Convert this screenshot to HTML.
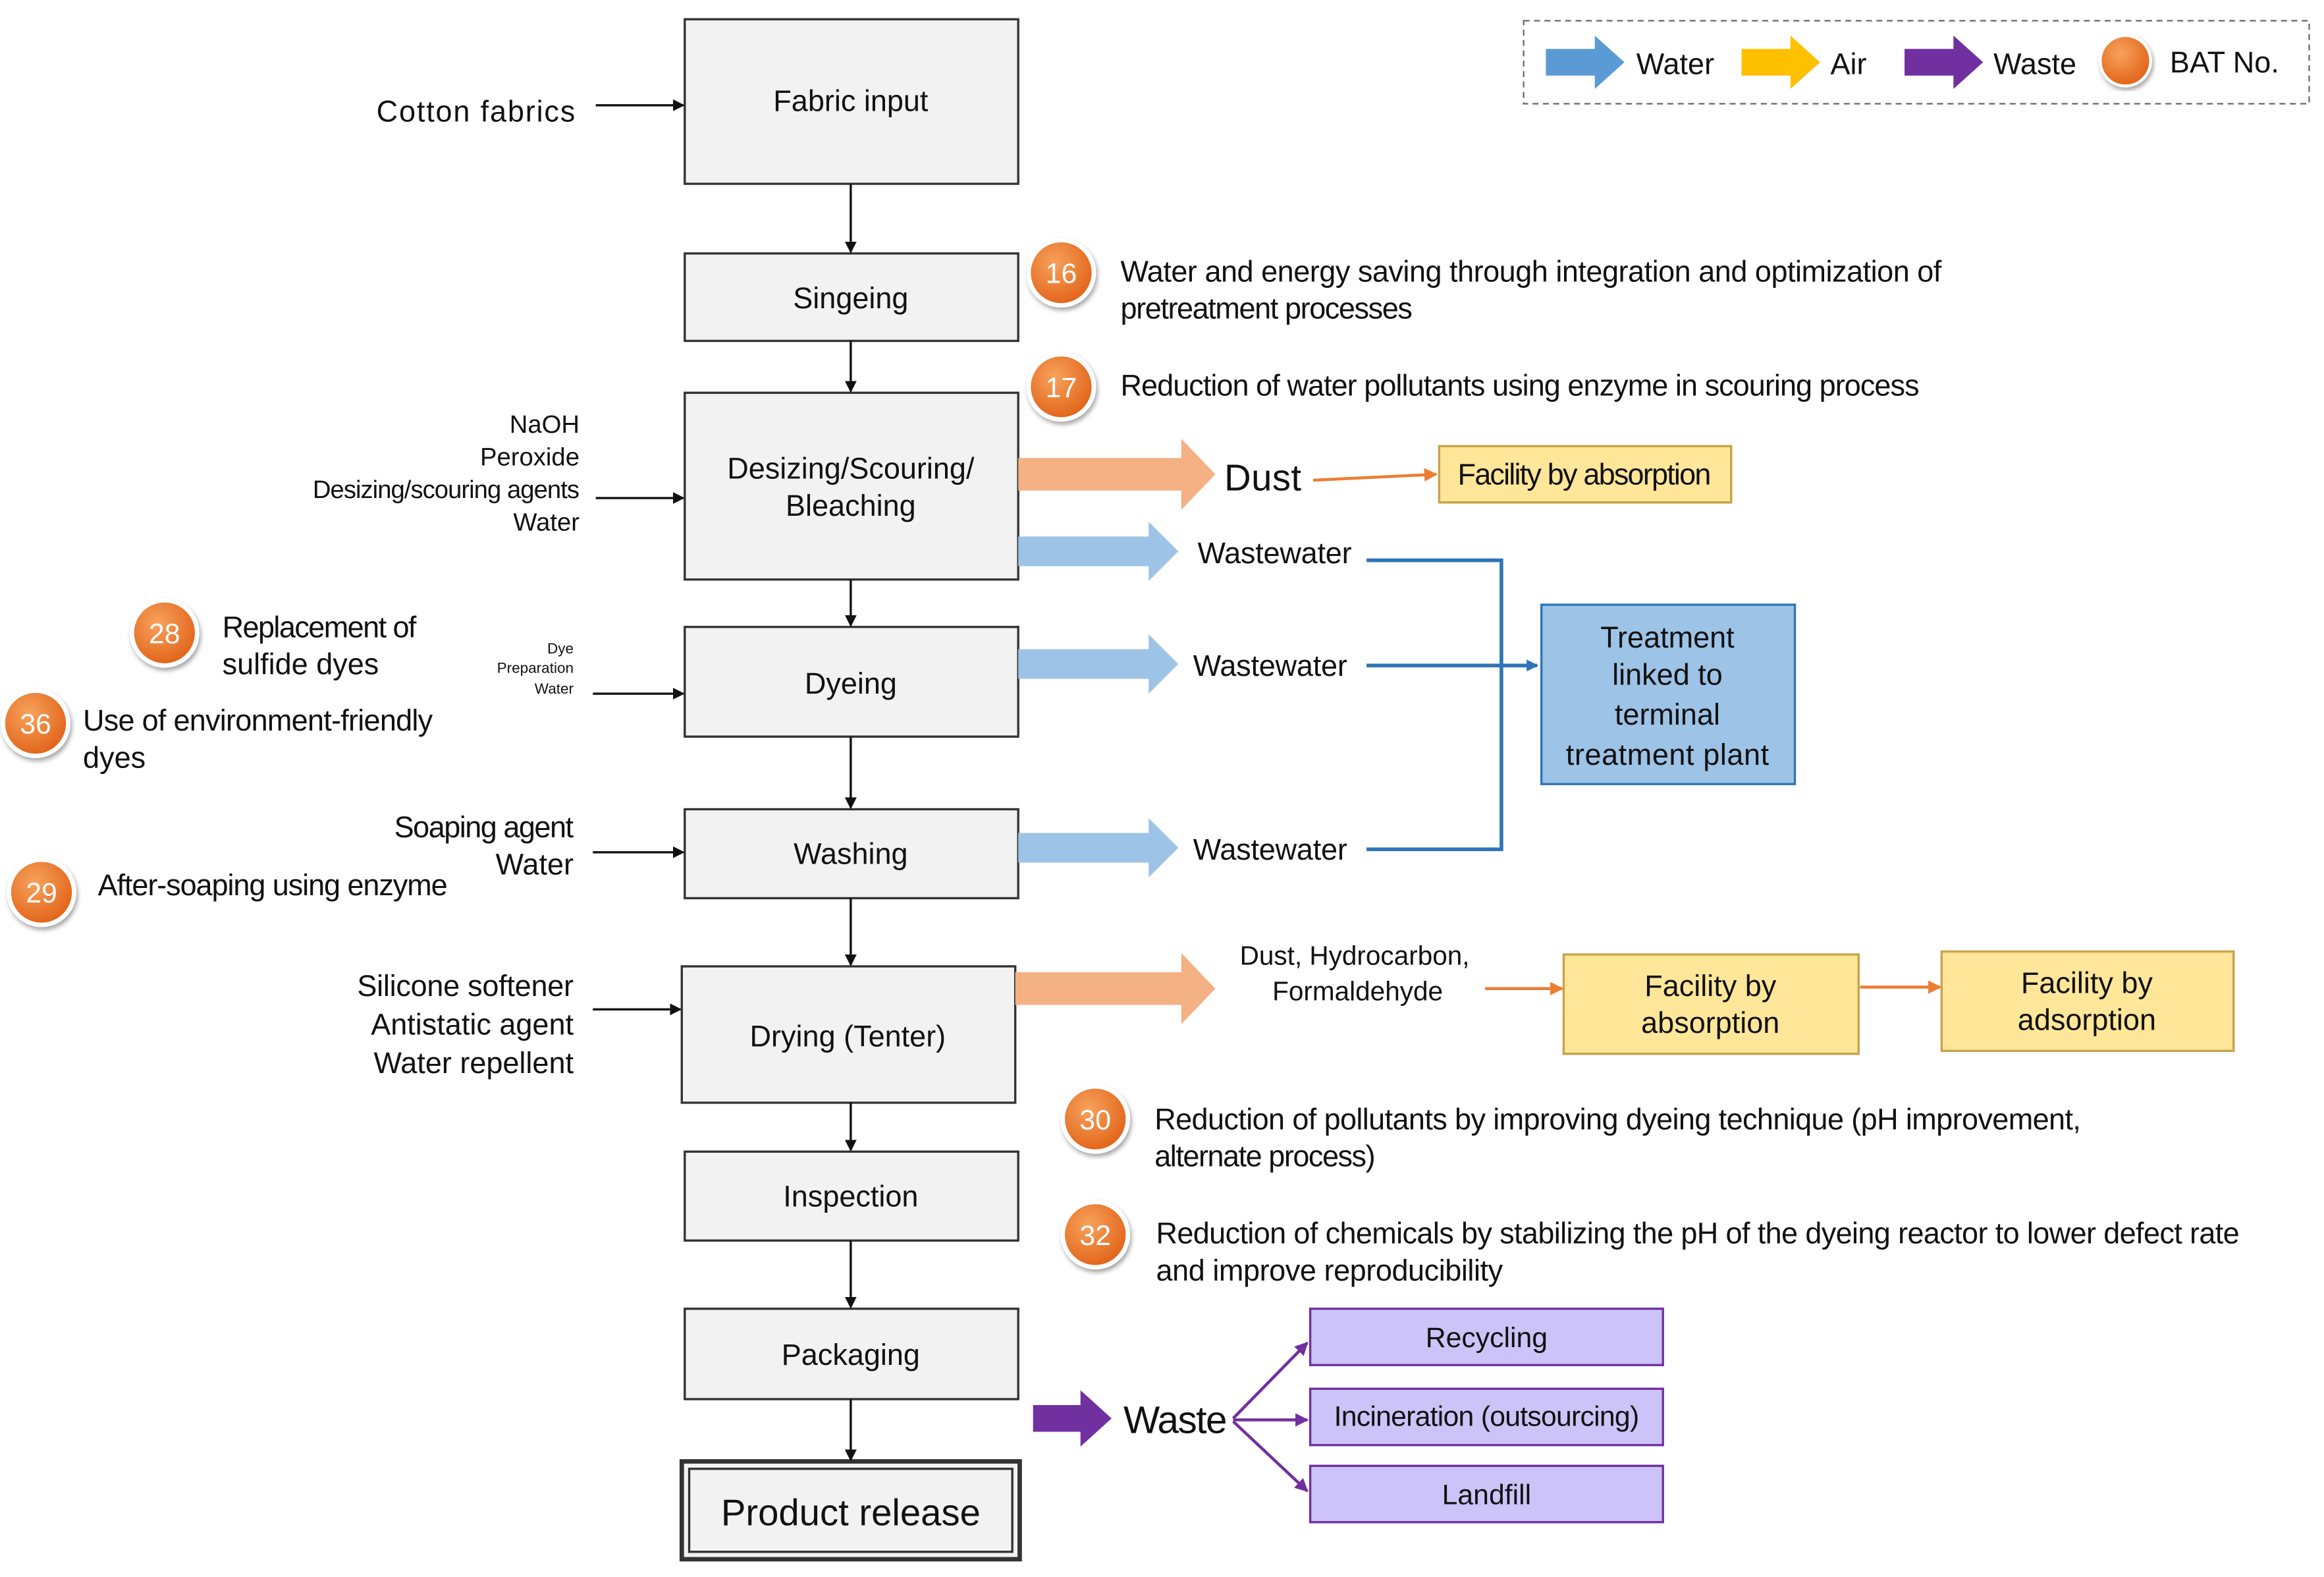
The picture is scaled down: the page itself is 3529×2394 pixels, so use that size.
<!DOCTYPE html>
<html><head><meta charset="utf-8"><style>
html,body{margin:0;padding:0;background:#fff;}
svg{display:block;}
text{font-family:"Liberation Sans Narrow","Liberation Sans",sans-serif;fill:#111;}
</style></head><body>
<svg width="3529" height="2394" viewBox="0 0 1568 1064" preserveAspectRatio="none" xmlns="http://www.w3.org/2000/svg">
<defs>
<marker id="ah" markerWidth="8" markerHeight="8" refX="7" refY="4" orient="auto" markerUnits="userSpaceOnUse"><path d="M0,0 L8,4 L0,8z" fill="#111"/></marker>
<marker id="ab" markerWidth="8" markerHeight="8" refX="7" refY="4" orient="auto" markerUnits="userSpaceOnUse"><path d="M0,0 L8,4 L0,8z" fill="#2e75b6"/></marker>
<marker id="ao" markerWidth="9" markerHeight="9" refX="8" refY="4.5" orient="auto" markerUnits="userSpaceOnUse"><path d="M0,0 L9,4.5 L0,9z" fill="#ed7d31"/></marker>
<marker id="ap" markerWidth="9" markerHeight="9" refX="8" refY="4.5" orient="auto" markerUnits="userSpaceOnUse"><path d="M0,0 L9,4.5 L0,9z" fill="#7030a0"/></marker>
<radialGradient id="og" cx="40%" cy="35%" r="65%"><stop offset="0" stop-color="#f7a25c"/><stop offset="1" stop-color="#e2641a"/></radialGradient>
<filter id="sh"><feDropShadow dx="1" dy="2" stdDeviation="1.5" flood-color="#000" flood-opacity="0.35"/></filter>
</defs>

<rect x="1028" y="14" width="530" height="56" fill="#fff" stroke="#666" stroke-dasharray="4,3"/>
<path d="M1043,33 h33 v-9 l20,18 l-20,18 v-9 h-33z" fill="#5b9bd5"/>
<text x="1104" y="50" font-size="20">Water</text>
<path d="M1175,33 h33 v-9 l20,18 l-20,18 v-9 h-33z" fill="#ffc000"/>
<text x="1235" y="50" font-size="20">Air</text>
<path d="M1285,33 h33 v-9 l20,18 l-20,18 v-9 h-33z" fill="#7030a0"/>
<text x="1345" y="50" font-size="20">Waste</text>
<circle cx="1434" cy="41" r="17" fill="url(#og)" stroke="#fff" stroke-width="2" filter="url(#sh)"/>
<text x="1464" y="49" font-size="20">BAT No.</text>

<g fill="#f2f2f2" stroke="#333" stroke-width="1.5">
<rect x="462" y="13" width="225" height="111"/>
<rect x="462" y="171" width="225" height="59"/>
<rect x="462" y="265" width="225" height="126"/>
<rect x="462" y="423" width="225" height="74"/>
<rect x="462" y="546" width="225" height="60"/>
<rect x="460" y="652" width="225" height="92"/>
<rect x="462" y="777" width="225" height="60"/>
<rect x="462" y="883" width="225" height="61"/>
<rect x="460" y="986" width="228" height="66" stroke-width="3"/>
<rect x="465" y="991" width="218" height="56" stroke-width="1.5"/>
</g>
<g font-size="20" text-anchor="middle">
<text x="574" y="75">Fabric input</text>
<text x="574" y="208">Singeing</text>
<text x="574" y="323">Desizing/Scouring/</text>
<text x="574" y="348">Bleaching</text>
<text x="574" y="468">Dyeing</text>
<text x="574" y="583">Washing</text>
<text x="572" y="706">Drying (Tenter)</text>
<text x="574" y="814">Inspection</text>
<text x="574" y="921">Packaging</text>
<text x="574" y="1029" font-size="25">Product release</text>
</g>

<g stroke="#111" stroke-width="1.5" marker-end="url(#ah)">
<line x1="574" y1="124" x2="574" y2="170"/>
<line x1="574" y1="230" x2="574" y2="264"/>
<line x1="574" y1="391" x2="574" y2="422"/>
<line x1="574" y1="497" x2="574" y2="545"/>
<line x1="574" y1="606" x2="574" y2="651"/>
<line x1="574" y1="744" x2="574" y2="776"/>
<line x1="574" y1="837" x2="574" y2="882"/>
<line x1="574" y1="944" x2="574" y2="985"/>
<line x1="402" y1="71" x2="461" y2="71"/>
<line x1="402" y1="336" x2="461" y2="336"/>
<line x1="400" y1="468" x2="461" y2="468"/>
<line x1="400" y1="575" x2="461" y2="575"/>
<line x1="400" y1="681" x2="459" y2="681"/>
</g>

<g font-size="20" text-anchor="end">
<text x="388" y="82" textLength="134">Cotton fabrics</text>
<text x="391" y="292" font-size="17">NaOH</text>
<text x="391" y="314" font-size="17">Peroxide</text>
<text x="391" y="336" font-size="17" textLength="180">Desizing/scouring agents</text>
<text x="391" y="358" font-size="17">Water</text>
<text x="387" y="441" font-size="10">Dye</text>
<text x="387" y="454" font-size="10">Preparation</text>
<text x="387" y="468" font-size="10">Water</text>
<text x="387" y="565" textLength="121">Soaping agent</text>
<text x="387" y="590">Water</text>
<text x="387" y="672" textLength="146">Silicone softener</text>
<text x="387" y="698">Antistatic agent</text>
<text x="387" y="724">Water repellent</text>
</g>
<g font-size="20">
<text x="150" y="430" textLength="131">Replacement of</text>
<text x="150" y="455">sulfide dyes</text>
<text x="56" y="493" textLength="236">Use of environment-friendly</text>
<text x="56" y="518">dyes</text>
<text x="66" y="604" textLength="236">After-soaping using enzyme</text>
<text x="756" y="190" textLength="554">Water and energy saving through integration and optimization of</text>
<text x="756" y="215" textLength="197">pretreatment processes</text>
<text x="756" y="267" textLength="539">Reduction of water pollutants using enzyme in scouring process</text>
<text x="779" y="762" textLength="625">Reduction of pollutants by improving dyeing technique (pH improvement,</text>
<text x="779" y="787" textLength="149">alternate process)</text>
<text x="780" y="839" textLength="731">Reduction of chemicals by stabilizing the pH of the dyeing reactor to lower defect rate</text>
<text x="780" y="864" textLength="234">and improve reproducibility</text>
</g>

<g filter="url(#sh)" stroke="#fff" stroke-width="3" fill="url(#og)">
<circle cx="716" cy="184" r="22"/>
<circle cx="716" cy="261" r="22"/>
<circle cx="111" cy="427" r="22"/>
<circle cx="24" cy="488" r="22"/>
<circle cx="28" cy="602" r="22"/>
<circle cx="739" cy="755" r="22"/>
<circle cx="739" cy="833" r="22"/>
</g>
<g font-size="19" text-anchor="middle">
<text x="716" y="191" style="fill:#fff">16</text>
<text x="716" y="268" style="fill:#fff">17</text>
<text x="111" y="434" style="fill:#fff">28</text>
<text x="24" y="495" style="fill:#fff">36</text>
<text x="28" y="609" style="fill:#fff">29</text>
<text x="739" y="762" style="fill:#fff">30</text>
<text x="739" y="840" style="fill:#fff">32</text>
</g>

<path d="M687,309 h110 v-13 l23,24 l-23,24 v-13 h-110z" fill="#f4b183"/>
<path d="M687,362 h88 v-10 l20,20 l-20,20 v-10 h-88z" fill="#9dc3e6"/>
<path d="M687,438 h88 v-10 l20,20 l-20,20 v-10 h-88z" fill="#9dc3e6"/>
<path d="M687,562 h88 v-10 l20,20 l-20,20 v-10 h-88z" fill="#9dc3e6"/>
<path d="M685,656 h112 v-13 l23,24 l-23,24 v-13 h-112z" fill="#f4b183"/>
<path d="M697,948 h32 v-10 l21,19 l-21,19 v-10 h-32z" fill="#7030a0"/>

<text x="826" y="331" font-size="25" textLength="52">Dust</text>
<text x="808" y="380" font-size="20" textLength="104">Wastewater</text>
<text x="805" y="456" font-size="20" textLength="104">Wastewater</text>
<text x="805" y="580" font-size="20" textLength="104">Wastewater</text>
<text x="914" y="651" font-size="18" text-anchor="middle">Dust, Hydrocarbon,</text>
<text x="916" y="675" font-size="18" text-anchor="middle">Formaldehyde</text>
<text x="758" y="967" font-size="26" textLength="70">Waste</text>

<g stroke="#ed7d31" stroke-width="2" marker-end="url(#ao)">
<line x1="886" y1="324" x2="969" y2="320"/>
<line x1="1002" y1="667" x2="1054" y2="667"/>
<line x1="1255" y1="666" x2="1309" y2="666"/>
</g>

<g fill="#ffe699" stroke="#c9a24a" stroke-width="1.5">
<rect x="971" y="301" width="197" height="38"/>
<rect x="1055" y="644" width="199" height="67"/>
<rect x="1310" y="642" width="197" height="67"/>
</g>
<g font-size="20" text-anchor="middle">
<text x="1069" y="327" textLength="171">Facility by absorption</text>
<text x="1154" y="672">Facility by</text>
<text x="1154" y="697">absorption</text>
<text x="1408" y="670">Facility by</text>
<text x="1408" y="695">adsorption</text>
</g>

<g stroke="#2e75b6" stroke-width="2.5" fill="none">
<polyline points="922,378 1013,378 1013,573 922,573"/>
<line x1="922" y1="449" x2="1037" y2="449" marker-end="url(#ab)"/>
</g>
<rect x="1040" y="408" width="171" height="121" fill="#9dc3e6" stroke="#2e75b6" stroke-width="1.5"/>
<g font-size="20" text-anchor="middle">
<text x="1125" y="437">Treatment</text>
<text x="1125" y="462">linked to</text>
<text x="1125" y="489">terminal</text>
<text x="1125" y="516" textLength="137">treatment plant</text>
</g>

<g stroke="#7030a0" stroke-width="2" fill="none" marker-end="url(#ap)">
<line x1="832" y1="957" x2="882" y2="906"/>
<line x1="832" y1="958" x2="882" y2="958"/>
<line x1="832" y1="959" x2="882" y2="1006"/>
</g>
<g fill="#ccc4f8" stroke="#7030a0" stroke-width="1.5">
<rect x="884" y="883" width="238" height="38"/>
<rect x="884" y="937" width="238" height="38"/>
<rect x="884" y="989" width="238" height="38"/>
</g>
<g font-size="19" text-anchor="middle">
<text x="1003" y="909">Recycling</text>
<text x="1003" y="962" textLength="206">Incineration (outsourcing)</text>
<text x="1003" y="1015">Landfill</text>
</g>
</svg>
</body></html>
